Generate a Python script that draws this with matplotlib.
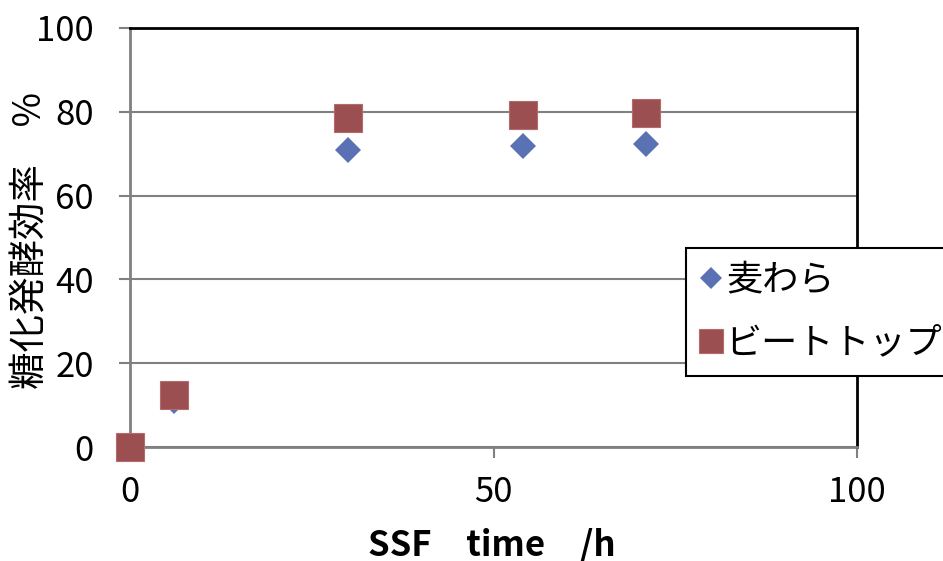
import matplotlib.pyplot as plt

plt.rcParams['font.family'] = ['Noto Sans CJK JP', 'DejaVu Sans']

time_h = [0, 6, 30, 54, 71]
straw = [0, 11, 71, 71.8, 72.2]
beet_top = [0, 12.5, 78.5, 79.3, 79.6]
labels = ['麦わら', 'ビートトップ']

fig = plt.figure(figsize=(9.43, 5.61), dpi=100)
ax = fig.add_axes([0.1379, 0.2032, 0.7709, 0.7469])

ax.plot(time_h, straw, 'D', color='#5A72B4', markersize=13.5, markeredgewidth=0,
        label=labels[0], clip_on=False, zorder=3)
ax.plot(time_h, beet_top, 's', color='#9B4F51', markersize=20, markeredgecolor='#B56A6B',
        markeredgewidth=0.8, label=labels[1], clip_on=False, zorder=4)

ax.set_xlim(0, 100)
ax.set_ylim(0, 100)
ax.set_xticks([0, 50, 100])
ax.set_yticks([0, 20, 40, 60, 80, 100])
ax.tick_params(labelsize=25, color='#808080', width=1.5, length=8)
ax.tick_params(axis='x', pad=12)
ax.tick_params(axis='y', pad=18)
ax.yaxis.grid(True, color='#808080', linewidth=1.5)
ax.set_axisbelow(True)

for s in ['left', 'bottom']:
    ax.spines[s].set_color('#808080')
    ax.spines[s].set_linewidth(2)
for s in ['top', 'right']:
    ax.spines[s].set_color('black')
    ax.spines[s].set_linewidth(2)

# axis titles placed in figure coordinates
fig.text(492 / 943, 1 - 545 / 561, 'SSF\u3000time\u3000/h', fontsize=25,
         fontweight='bold', ha='center', va='center')
fig.text(31 / 943, 1 - 240 / 561, '糖化発酵効率\u3000%', fontsize=27,
         rotation=90, ha='center', va='center')

leg = ax.legend(loc='upper left', bbox_to_anchor=(0.7275, 0.558),
                bbox_transform=fig.transFigure, fontsize=26,
                frameon=True, fancybox=False, edgecolor='black', handlelength=0.6,
                handletextpad=0.1, borderpad=0.4, labelspacing=0.75, markerscale=0.85,
                borderaxespad=0, framealpha=1)
leg.get_frame().set_linewidth(1.5)
leg.set_clip_on(False)

fig.savefig('out.png', dpi=100)
